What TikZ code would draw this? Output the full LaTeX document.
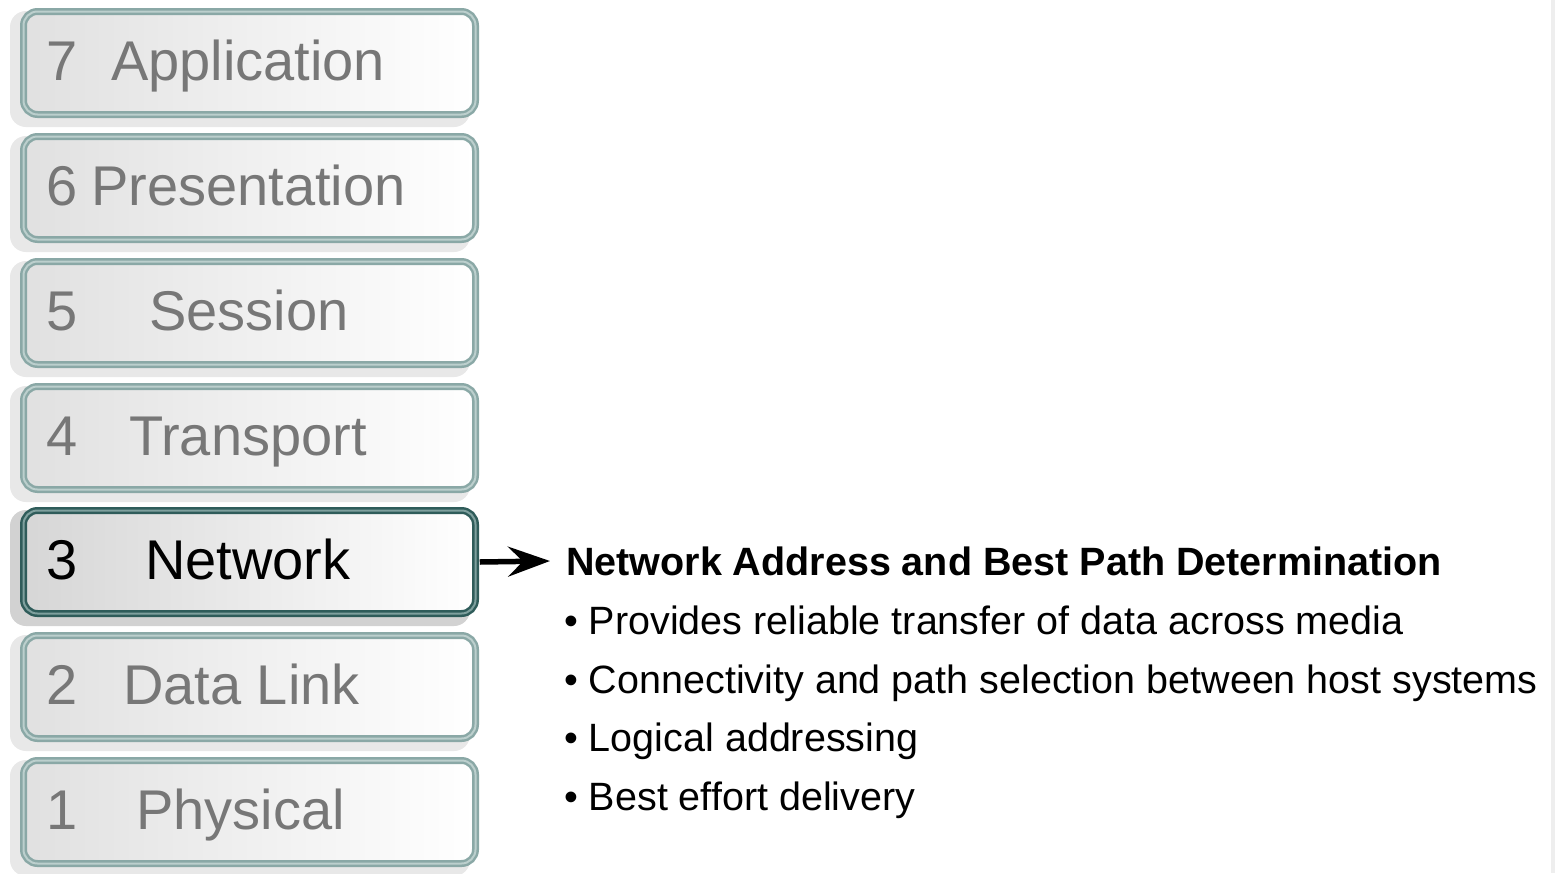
\documentclass[tikz,border=0pt]{standalone}
\usepackage{fontspec}
\setmainfont{Liberation Sans}
\usetikzlibrary{arrows.meta,calc}

\definecolor{rimdim}{HTML}{8AA8A6}
\definecolor{rimdimlight}{HTML}{BCCFCD}
\definecolor{rimact}{HTML}{2F5C5A}
\definecolor{rimactlight}{HTML}{7FA09E}
\definecolor{labeldim}{HTML}{777777}
\definecolor{shadowdim}{HTML}{E8E8E8}
\definecolor{shadowact}{HTML}{D2D2D2}
\definecolor{edgestrip}{HTML}{EEEEEE}

\tikzset{
  layerbox/.style={rectangle, rounded corners=14pt, minimum width=452pt,
    minimum height=103pt, inner sep=0pt,
    left color=black!12, right color=white, shading angle=90,
    draw=rimdim, double=rimdimlight, double distance=2pt, line width=2.5pt},
  activebox/.style={layerbox, draw=rimact, double=rimactlight, left color=black!16},
  layertext/.style={anchor=base west, inner sep=0pt, text=labeldim,
    font=\fontsize{56}{60}\selectfont},
  activetext/.style={layertext, text=black},
  headtext/.style={anchor=base west, inner sep=0pt,
    font=\fontsize{39.5}{44}\selectfont\bfseries},
  bullettext/.style={anchor=base west, inner sep=0pt,
    font=\fontsize{39.5}{44}\selectfont},
  pointer/.style={line width=5.5pt,
    -{Stealth[length=42pt,width=30pt,inset=15pt]}},
}

\begin{document}
\begin{tikzpicture}[x=1pt,y=-1pt]
  \useasboundingbox (0,0) rectangle (1555,873);
  \fill[white] (0,0) rectangle (1555,873);
  \fill[edgestrip] (1551,0) rectangle (1555,873);

  % drop shadows behind the layer boxes
  \foreach \cy in {63,188,313,438,687,812}
    \fill[shadowdim, rounded corners=16pt] (10,\cy-52) rectangle (470,\cy+64);
  \fill[shadowact, rounded corners=16pt] (10,562-52) rectangle (470,562+64);

  % the seven layers
  \node[layerbox]  (l7) at (249.5,63)  {};
  \node[layerbox]  (l6) at (249.5,188) {};
  \node[layerbox]  (l5) at (249.5,313) {};
  \node[layerbox]  (l4) at (249.5,438) {};
  \node[activebox] (l3) at (249.5,562) {};
  \node[layerbox]  (l2) at (249.5,687) {};
  \node[layerbox]  (l1) at (249.5,812) {};

  \node[layertext] (n7) at (46,80)  {7};
  \node[layertext] (t7) at (111,80) {Application};
  \node[layertext] (n6) at (46,205) {6};
  \node[layertext] (t6) at (91,205) {Presentation};
  \node[layertext] (n5) at (46,330) {5};
  \node[layertext] (t5) at (149,330) {Session};
  \node[layertext] (n4) at (46,455) {4};
  \node[layertext] (t4) at (129,455) {Transport};
  \node[activetext] (n3) at (46,579) {3};
  \node[activetext] (t3) at (145,579) {Network};
  \node[layertext] (n2) at (46,704) {2};
  \node[layertext] (t2) at (123,704) {Data Link};
  \node[layertext] (n1) at (46,829) {1};
  \node[layertext] (t1) at (136,829) {Physical};

  % description of the network layer
  \node[headtext] (head) at (566,575) {Network Address and Best Path Determination};
  \node[bullettext] (b1) at (564,634) {\textbullet\ Provides reliable transfer of data across media};
  \node[bullettext] (b2) at (564,693) {\textbullet\ Connectivity and path selection between host systems};
  \node[bullettext] (b3) at (564,751) {\textbullet\ Logical addressing};
  \node[bullettext] (b4) at (564,810) {\textbullet\ Best effort delivery};

  \draw[pointer] ([xshift=3pt]l3.east) -- ($(l3.east -| head.west)+(-16pt,1pt)$);
\end{tikzpicture}
\end{document}
